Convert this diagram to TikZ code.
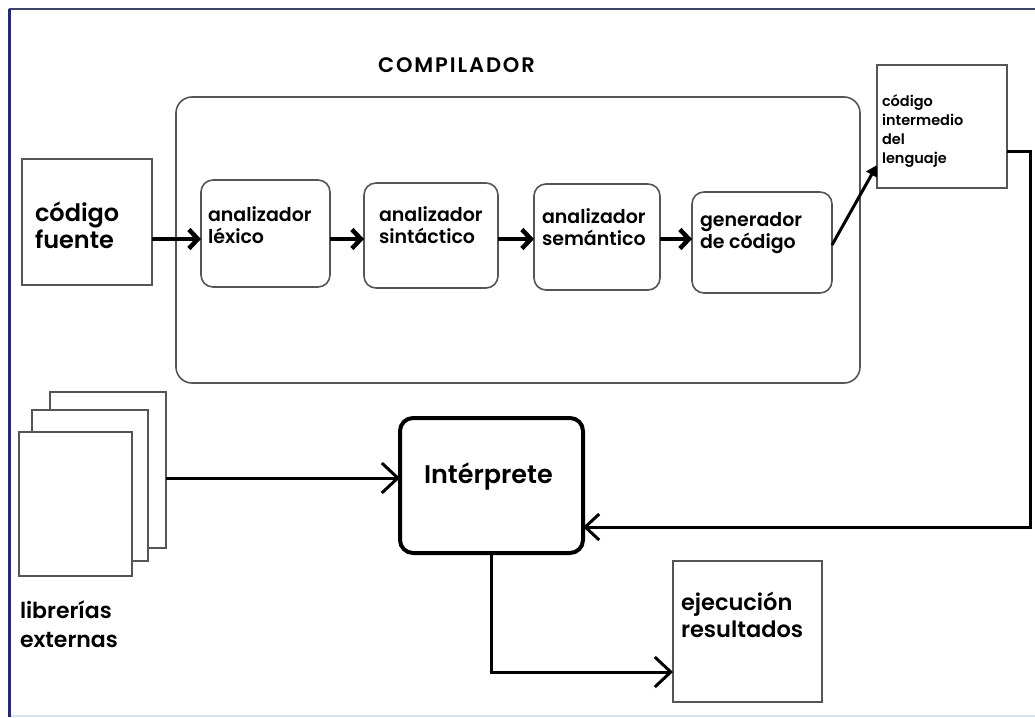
\documentclass[tikz,border=0pt]{standalone}
\usepackage{fontspec}
\setmainfont{Poppins}
\newfontfamily\semib{Poppins SemiBold}
\newfontfamily\semibwide{Poppins SemiBold}[LetterSpace=9]
\usetikzlibrary{arrows.meta,calc}
\definecolor{boxgray}{RGB}{85,85,85}
\definecolor{framenavy}{RGB}{30,40,140}
\definecolor{frametop}{RGB}{60,68,105}
\definecolor{framelight}{RGB}{215,228,242}
\begin{document}
\begin{tikzpicture}[x=1pt,y=-1pt,
  every node/.style={inner sep=0pt, outer sep=0pt},
  box/.style={draw=boxgray, line width=1.6pt, fill=white},
  rbox/.style={box, rounded corners=12pt},
  lbl/.style={anchor=base west, align=left},
  flow/.style={line width=4.5pt, -{Straight Barb[length=9pt,width=19pt]}},
  link/.style={line width=3pt, -{Straight Barb[length=16pt,width=30pt]}},
]
\useasboundingbox (0,0) rectangle (1035,717);
\fill[white] (0,0) rectangle (1035,717);
% window frame
\draw[frametop, line width=2pt] (9,9.5) -- (1035,9.5);
\draw[framenavy, line width=3.5pt] (9.5,9) -- (9.5,717);
\draw[framelight, line width=2pt] (11,716) -- (1035,716);

% compiler container
\node[box, rounded corners=16pt, minimum width=684pt, minimum height=286pt] (comp) at (518,240) {};
\node[lbl, font=\semibwide\fontsize{21}{24}\selectfont] (comptitle) at (378,72) {COMPILADOR};

% source code (multi-line labels are anchored at the baseline of their last line)
\node[box, minimum width=130pt, minimum height=126pt] (src) at (87,222) {};
\node[lbl, font=\semib\fontsize{24}{27}\selectfont] (srctxt) at (35,248) {código\\fuente};

% compiler phases
\node[rbox, minimum width=129pt, minimum height=107pt] (lex) at (265.5,233.5) {};
\node[rbox, minimum width=134pt, minimum height=105pt] (sin) at (431,235.5) {};
\node[rbox, minimum width=126pt, minimum height=106pt] (sem) at (597,237) {};
\node[rbox, minimum width=140pt, minimum height=101pt] (gen) at (762,242.5) {};
\begin{scope}[every node/.append style={lbl, font=\semib\fontsize{19}{21.5}\selectfont}]
\node (lextxt) at (208,243) {analizador\\léxico};
\node (sintxt) at (379,243) {analizador\\sintáctico};
\node (semtxt) at (542,245) {analizador\\semántico};
\node (gentxt) at (700,248) {generador\\de código};
\end{scope}

% intermediate code
\node[box, minimum width=130pt, minimum height=123pt] (mid) at (942,126.5) {};
\node[lbl, font=\semib\fontsize{14.5}{19}\selectfont] (midtxt) at (882,163) {código\\intermedio\\del\\lenguaje};

% interpreter
\node[draw=black, line width=4pt, rounded corners=13pt, minimum width=183pt, minimum height=135pt] (int) at (491.5,485.5) {};
\node[lbl, font=\semib\fontsize{25.5}{28}\selectfont] (inttxt) at (424,483) {Intérprete};

% external libraries (stack of pages)
\node[box, line width=1.4pt, minimum width=116pt, minimum height=156pt] (p3) at (108,470) {};
\node[box, line width=1.4pt, minimum width=116pt, minimum height=151pt] (p2) at (90,485.5) {};
\node[box, line width=1.4pt, minimum width=113pt, minimum height=144pt] (p1) at (75.5,504) {};
\node[lbl, font=\semib\fontsize{22}{29}\selectfont] (libtxt) at (20,647) {librerías\\externas};

% results
\node[box, minimum width=149pt, minimum height=141pt] (res) at (747.5,631.5) {};
\node[lbl, font=\semib\fontsize{22.5}{27}\selectfont] (restxt) at (681,637) {ejecución\\resultados};

% connectors
\coordinate (row) at (0,239);
\coordinate (genout) at (0,245);
\coordinate (midin) at (0,165);
\coordinate (midout) at (0,151);
\coordinate (back) at (1030,527);
\coordinate (libline) at (0,478);
\coordinate (exec) at (0,672);
\draw[flow] (src.east |- row) -- (lex.west |- row);
\draw[flow] (lex.east |- row) -- (sin.west |- row);
\draw[flow] (sin.east |- row) -- (sem.west |- row);
\draw[flow] (sem.east |- row) -- (gen.west |- row);
\draw[line width=3pt, -{Triangle[length=11pt,width=12pt]}] (gen.east |- genout) -- (mid.west |- midin);
\draw[line width=3pt, -{Straight Barb[length=14pt,width=26pt]}] (mid.east |- midout) -| (back) -- (int.east |- back);
\draw[link] (p3.east |- libline) -- (int.west |- libline);
\draw[link] (int.south) |- (res.west |- exec);
\end{tikzpicture}
\end{document}
